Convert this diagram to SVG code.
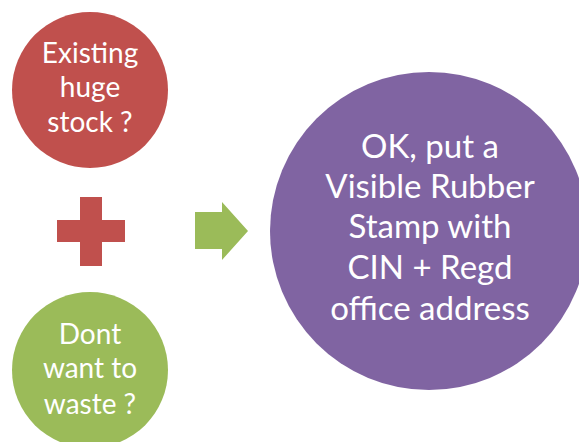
<svg xmlns="http://www.w3.org/2000/svg" width="579" height="442" viewBox="0 0 579 442">
<style>
.t{font-family:"Lato","Open Sans","Liberation Sans",sans-serif;fill:#FFFFFF;text-anchor:middle}
.s{font-size:28px}
.b{font-size:33px}
</style>
<rect width="579" height="442" fill="#FFFFFF"/>
<g id="node-stock">
<circle cx="90" cy="90" r="78" fill="#C0504D"/>
<text class="t s" x="90" y="63">Existing</text>
<text class="t s" x="90" y="97">huge</text>
<text class="t s" x="90" y="132">stock ?</text>
</g>
<g id="node-waste">
<circle cx="90" cy="370" r="78" fill="#9BBB59"/>
<text class="t s" x="90" y="344">Dont</text>
<text class="t s" x="90" y="378">want to</text>
<text class="t s" x="90" y="414">waste ?</text>
</g>
<g id="node-stamp">
<circle cx="429" cy="231" r="159" fill="#8064A2"/>
<text class="t b" x="430" y="158">OK, put a</text>
<text class="t b" x="430" y="198">Visible Rubber</text>
<text class="t b" x="430" y="238">Stamp with</text>
<text class="t b" x="430" y="279">CIN + Regd</text>
<text class="t b" x="430" y="320">office address</text>
</g>
<g id="connectors">
<path id="plus" d="M80 197H102V220H125V242H102V266H80V242H57V220H80Z" fill="#C0504D"/>
<path id="arrow" d="M195 212H222V202L248 231L222 260V249H195Z" fill="#9BBB59"/>
</g>
</svg>
